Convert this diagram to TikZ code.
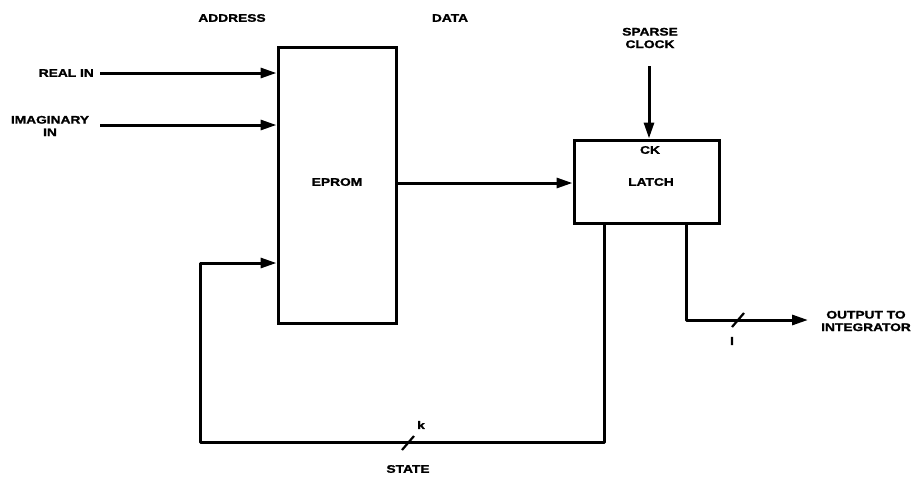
\documentclass[tikz,border=0pt]{standalone}
\usepackage{fontspec}
\setmainfont{Liberation Sans}
\newfontfamily\lblfont{Liberation Sans Bold}[FakeStretch=1.25, FakeBold=1.5]
\usetikzlibrary{arrows.meta}
\begin{document}
\begin{tikzpicture}[x=1pt,y=-1pt,
  lbl/.style={font=\lblfont\fontsize{11}{12.5}\selectfont, align=center, inner sep=0pt},
  blk/.style={draw, line width=3pt, inner sep=0pt},
  wire/.style={line width=3pt},
  arr/.style={wire, -{Triangle[length=16pt,width=10pt]}},
  tick/.style={line width=2.2pt}]
\useasboundingbox (0,0) rectangle (918,480);
% blocks
\node[blk, minimum width=118pt, minimum height=276pt] (eprom) at (337,185) {};
\node[lbl] (epromt) at (337,182) {EPROM};
\node[blk, minimum width=145pt, minimum height=83pt] (latch) at (646.5,181.5) {};
\node[lbl] (ck) at (650,150) {CK};
\node[lbl] (latcht) at (651,182) {LATCH};
% labels
\node[lbl] (addr) at (232,18) {ADDRESS};
\node[lbl] (data) at (450,18) {DATA};
\node[lbl, anchor=east] (real) at (94,73) {REAL IN};
\node[lbl] (imag) at (50,126) {IMAGINARY\\IN};
\node[lbl] (sparse) at (650,38) {SPARSE\\CLOCK};
\node[lbl] (out) at (866,321) {OUTPUT TO\\INTEGRATOR};
\node[lbl] (state) at (408,469) {STATE};
\node[lbl] (k) at (421,425) {k};
\node[lbl] (l) at (732,341) {l};
% coordinates
\coordinate (r0) at (100,73);
\coordinate (i0) at (100,125);
\coordinate (c0) at (649,66);
\coordinate (fb1) at (604,442);
\coordinate (fb2) at (200,442);
\coordinate (fb3) at (200,263);
\coordinate (o1) at (686,320);
\coordinate (o2) at (808,320);
% connectors
\draw[arr] (r0) -- (r0 -| eprom.west);
\draw[arr] (i0) -- (i0 -| eprom.west);
\draw[arr] (eprom.east |- 0,183) -- (latch.west |- 0,183);
\draw[arr] (c0) -- (c0 |- latch.north);
\draw[arr, line join=round] (fb1 |- latch.south) -- (fb1) -- (fb2) -- (fb3) -- (fb3 -| eprom.west);
\draw[arr, line join=round] (o1 |- latch.south) -- (o1) -- (o2);
% bus ticks
\draw[tick] (402,450) -- (414,436);
\draw[tick] (732,327) -- (744,313);
\end{tikzpicture}
\end{document}
